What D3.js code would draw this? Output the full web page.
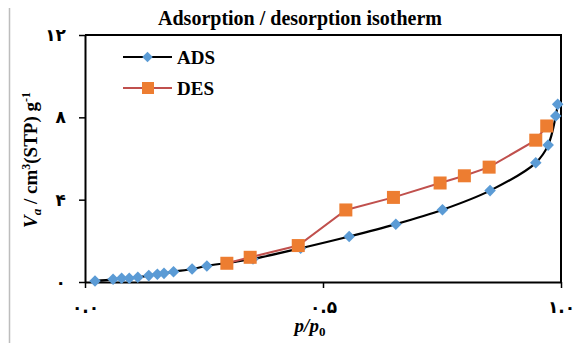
<!DOCTYPE html>
<html>
<head>
<meta charset="utf-8">
<script src="https://cdn.jsdelivr.net/npm/d3@7"></script>
<style>
  body { margin: 0; background: #fff; }
  svg { display: block; }
</style>
</head>
<body>
<div class="chart"></div>
<script>
var svgWidth = 576;
var svgHeight = 343;

// adsorption branch (p/p0, Va)
var adsP = [0.021, 0.059, 0.077, 0.093, 0.111, 0.134, 0.152, 0.166, 0.186, 0.225, 0.256, 0.30, 0.353, 0.453, 0.555, 0.653, 0.751, 0.851, 0.947, 0.973, 0.989, 0.993];
var adsV = [0.05, 0.13, 0.18, 0.18, 0.23, 0.31, 0.38, 0.42, 0.50, 0.63, 0.78, 0.93, 1.12, 1.64, 2.21, 2.81, 3.51, 4.44, 5.79, 6.65, 8.06, 8.63];

// desorption branch
var desP = [0.298, 0.347, 0.448, 0.548, 0.648, 0.746, 0.797, 0.849, 0.947, 0.970];
var desV = [0.91, 1.20, 1.77, 3.50, 4.11, 4.81, 5.16, 5.58, 6.89, 7.58];

var yTicks = [0, 4, 8, 12];
var xTicks = [0, 0.5, 1];
var persianDigits = "۰۱۲۳۴۵۶۷۸۹";

function toPersian(s) {
  return String(s).replace(/[0-9]/g, function (d) { return persianDigits[+d]; });
}

var serif = "'Liberation Serif', 'Times New Roman', Times, serif";

var margin = { top: 35, right: 15, bottom: 61, left: 85 };
var width = 561 - margin.left;
var height = 282 - margin.top;

var svg = d3.select(".chart")
  .append("svg")
  .attr("width", svgWidth)
  .attr("height", svgHeight);

// grey border line on the far left
svg.append("line")
  .attr("x1", 9.5).attr("x2", 9.5)
  .attr("y1", 8).attr("y2", svgHeight)
  .attr("stroke", "#bdbdbd")
  .attr("stroke-width", 1.5);

var chartGroup = svg.append("g")
  .attr("transform", `translate(${margin.left}, ${margin.top})`);

var x_scale = d3.scaleLinear().domain([0, 1]).range([0, width]);
var y_scale = d3.scaleLinear().domain([0, 12]).range([height, 0]);

// plot frame (top and right)
chartGroup.append("path")
  .attr("d", `M0,0H${width}V${height}`)
  .attr("fill", "none")
  .attr("stroke", "#000")
  .attr("stroke-width", 2);

var bottomAxis = d3.axisBottom(x_scale)
  .tickValues(xTicks)
  .tickSize(6)
  .tickPadding(13)
  .tickSizeOuter(0)
  .tickFormat(function (d) { return toPersian(d3.format(".1f")(d)); });

var leftAxis = d3.axisLeft(y_scale)
  .tickValues(yTicks)
  .tickSize(6)
  .tickPadding(13)
  .tickSizeOuter(0)
  .tickFormat(function (d) { return toPersian(d); });

var xAxisG = chartGroup.append("g")
  .attr("transform", `translate(0, ${height})`)
  .call(bottomAxis);

var yAxisG = chartGroup.append("g").call(leftAxis);

[xAxisG, yAxisG].forEach(function (g) {
  g.select(".domain").attr("stroke", "#000").attr("stroke-width", 2);
  g.selectAll(".tick line").attr("stroke", "#000").attr("stroke-width", 1.5);
  g.selectAll(".tick text")
    .attr("fill", "#000")
    .style("font-family", "'DejaVu Sans', sans-serif")
    .style("font-weight", "bold")
    .style("font-size", "17px");
});

var adsData = adsP.map(function (p, i) { return { p: p, v: adsV[i] }; });
var desData = desP.map(function (p, i) { return { p: p, v: desV[i] }; });

var adsLine = d3.line()
  .x(function (d) { return x_scale(d.p); })
  .y(function (d) { return y_scale(d.v); })
  .curve(d3.curveCatmullRom.alpha(0.5));

var desLine = d3.line()
  .x(function (d) { return x_scale(d.p); })
  .y(function (d) { return y_scale(d.v); });

var diamond = d3.symbol().type(d3.symbolDiamond2).size(85);
var legendDiamond = d3.symbol().type(d3.symbolDiamond2).size(70);

// ADS series
chartGroup.append("path")
  .datum(adsData)
  .attr("d", adsLine)
  .attr("fill", "none")
  .attr("stroke", "#000")
  .attr("stroke-width", 2.2);

chartGroup.selectAll(".ads")
  .data(adsData)
  .enter()
  .append("path")
  .attr("class", "ads")
  .attr("d", diamond)
  .attr("transform", function (d) { return `translate(${x_scale(d.p)}, ${y_scale(d.v)})`; })
  .attr("fill", "#5b9bd5");

// DES series
chartGroup.append("path")
  .datum(desData)
  .attr("d", desLine)
  .attr("fill", "none")
  .attr("stroke", "#c0504d")
  .attr("stroke-width", 2);

chartGroup.selectAll(".des")
  .data(desData)
  .enter()
  .append("rect")
  .attr("class", "des")
  .attr("x", function (d) { return x_scale(d.p) - 6.5; })
  .attr("y", function (d) { return y_scale(d.v) - 6.5; })
  .attr("width", 13)
  .attr("height", 13)
  .attr("fill", "#ed7d31");

// legend
var legend = svg.append("g");
var legendItems = [
  { name: "ADS", line: "#000", y: 57 },
  { name: "DES", line: "#c0504d", y: 88 }
];
legendItems.forEach(function (item) {
  legend.append("line")
    .attr("x1", 123).attr("x2", 172)
    .attr("y1", item.y).attr("y2", item.y)
    .attr("stroke", item.line)
    .attr("stroke-width", 2.2);
  if (item.name === "ADS") {
    legend.append("path")
      .attr("d", legendDiamond)
      .attr("transform", `translate(147.5, ${item.y})`)
      .attr("fill", "#5b9bd5");
  } else {
    legend.append("rect")
      .attr("x", 142).attr("y", item.y - 6)
      .attr("width", 12).attr("height", 12)
      .attr("fill", "#ed7d31");
  }
  legend.append("text")
    .attr("x", 177)
    .attr("y", item.y + 7)
    .attr("font-family", serif)
    .attr("font-weight", "bold")
    .attr("font-size", 19)
    .text(item.name);
});

// title
svg.append("text")
  .attr("x", 300)
  .attr("y", 25)
  .attr("text-anchor", "middle")
  .attr("font-family", serif)
  .attr("font-weight", "bold")
  .attr("font-size", 20)
  .text("Adsorption / desorption isotherm");

// y axis label
var yLabel = svg.append("text")
  .attr("transform", "translate(37, 160) rotate(-90)")
  .attr("text-anchor", "middle")
  .attr("font-family", serif)
  .attr("font-weight", "bold")
  .attr("font-size", 19);
yLabel.append("tspan").attr("font-style", "italic").text("V");
yLabel.append("tspan").attr("font-style", "italic").attr("font-size", 13).attr("dy", 4).text("a");
yLabel.append("tspan").attr("dy", -4).text(" / cm");
yLabel.append("tspan").attr("font-size", 12).attr("dy", -7).text("3");
yLabel.append("tspan").attr("dy", 7).text("(STP) g");
yLabel.append("tspan").attr("font-size", 12).attr("dy", -7).text("-1");

// x axis label
var xLabel = svg.append("text")
  .attr("x", 310)
  .attr("y", 332)
  .attr("text-anchor", "middle")
  .attr("font-family", serif)
  .attr("font-weight", "bold")
  .attr("font-size", 19);
xLabel.append("tspan").attr("font-style", "italic").text("p/p");
xLabel.append("tspan").attr("font-size", 13).attr("dy", 4).text("0");
</script>
</body>
</html>
